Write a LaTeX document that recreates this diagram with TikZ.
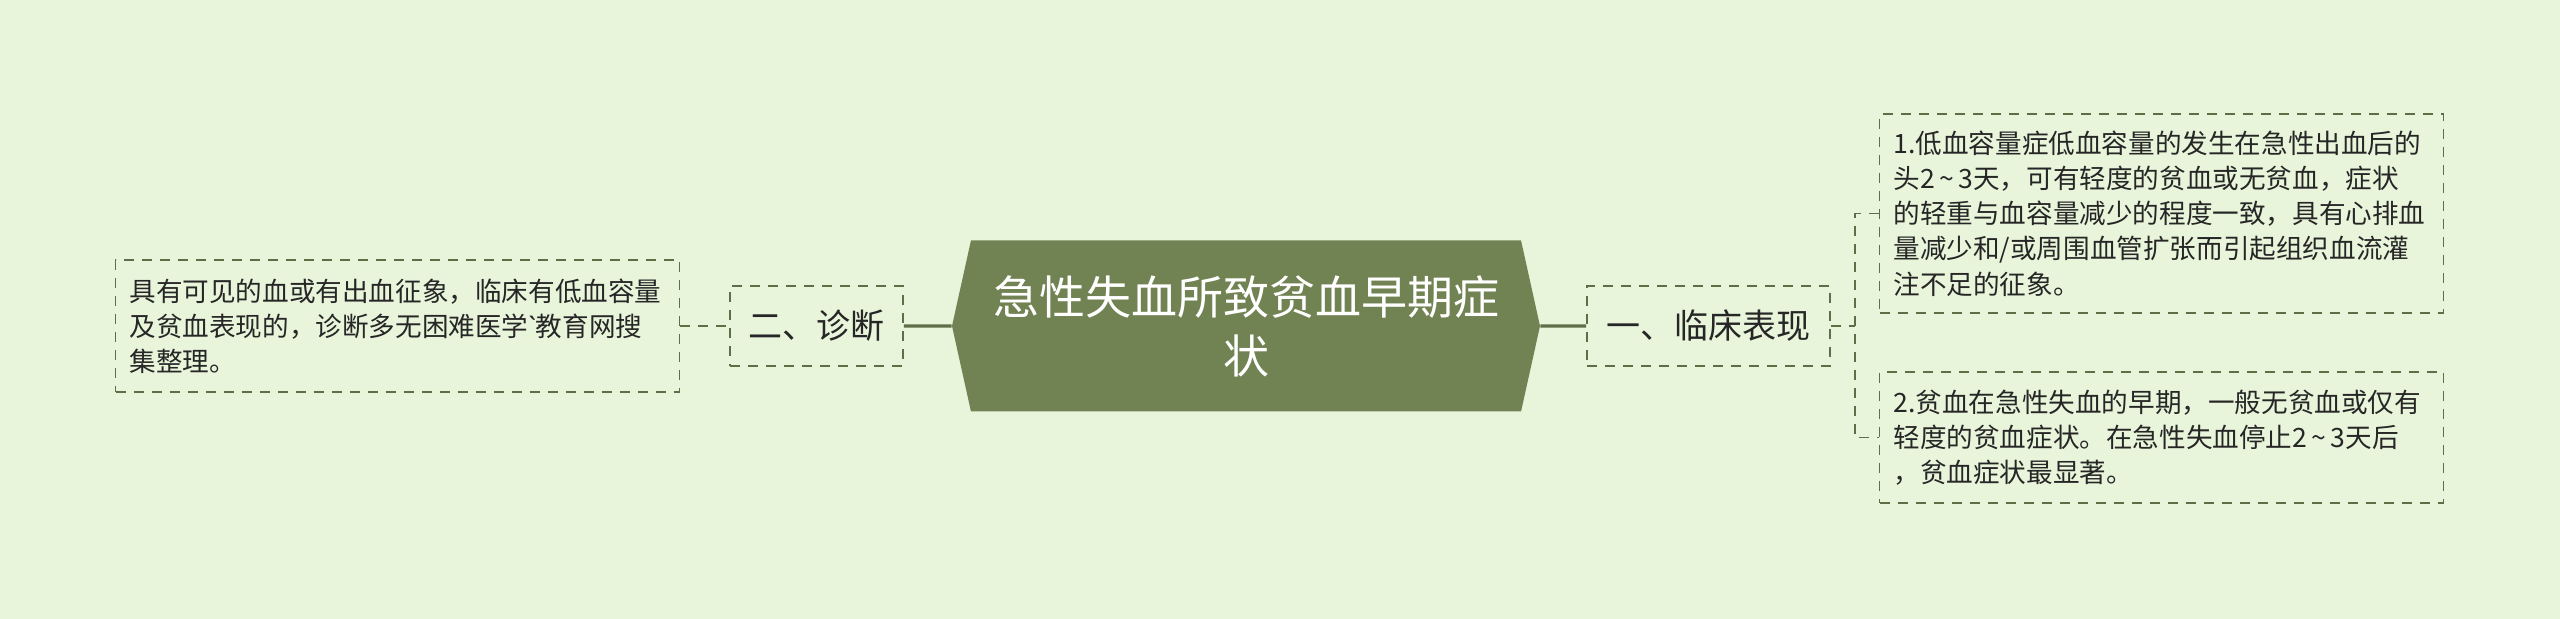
\documentclass[tikz,border=0pt]{standalone}
\usepackage{fontspec}
\setmainfont{Noto Sans CJK SC}
\newfontfamily\latinfont{Noto Sans}
\usetikzlibrary{shapes.symbols}
\definecolor{bgGreen}{RGB}{232,245,219}
\definecolor{oliveFill}{RGB}{113,130,83}
\definecolor{oliveLine}{RGB}{96,110,72}
\definecolor{inkDark}{RGB}{38,38,38}
\newcommand{\dayrange}{2\,\char126\,3}
\begin{document}
\begin{tikzpicture}[x=0.5pt,y=0.5pt,yscale=-1,xscale=1,
  leafbox/.style={draw=oliveLine,line width=0.9pt,dash pattern=on 5pt off 4pt,
    align=left,text width=268pt,inner sep=7pt,font=\fontsize{13.3pt}{17.6pt}\selectfont,text=inkDark},
  branchbox/.style={draw=oliveLine,line width=0.9pt,dash pattern=on 5pt off 4pt,
    minimum height=40pt,inner sep=0pt,font=\fontsize{17pt}{20pt}\selectfont,text=inkDark},
  dashlink/.style={draw=oliveLine,line width=0.9pt,dash pattern=on 5pt off 4pt},
  solidlink/.style={draw=oliveLine,line width=1.6pt}]
%set diagram size: 2560 x 619
\path[fill=bgGreen] (0,0) rectangle (2560,619);
\useasboundingbox (0,0) rectangle (2560,619);

% Title Node
\node (title) [shape=signal,signal to=west and east,signal pointer angle=155,
  fill=oliveFill,minimum width=294pt,minimum height=85.5pt,inner sep=0pt,
  text=white,align=center,font=\fontsize{23pt}{29.5pt}\selectfont] at (1246,326)
  {急性失血所致贫血早期症\\状};
% Branch Nodes
\node (diag) [branchbox,minimum width=86.5pt] at (816.5,326) {二、诊断};
\node (clin) [branchbox,minimum width=121.5pt] at (1708.5,326) {一、临床表现};
% Leaf Nodes
\node (diagtext) [leafbox,minimum height=66pt] at (397.5,326)
  {具有可见的血或有出血征象，临床有低血容量\\及贫血表现的，诊断多无困难医学{\latinfont\char96}教育网搜\\集整理。};
\node (pt1) [leafbox,minimum height=99.5pt] at (2161.5,213.5)
  {1.低血容量症低血容量的发生在急性出血后的\\头\dayrange 天，可有轻度的贫血或无贫血，症状\\的轻重与血容量减少的程度一致，具有心排血\\量减少和/或周围血管扩张而引起组织血流灌\\注不足的征象。};
\node (pt2) [leafbox,minimum height=65.5pt] at (2161.5,437.5)
  {2.贫血在急性失血的早期，一般无贫血或仅有\\轻度的贫血症状。在急性失血停止\dayrange 天后\\，贫血症状最显著。};
\coordinate (fork) at (1855,326);

% Links
\draw[dashlink] (diagtext) -- (diag);
\draw[solidlink] (diag) -- (title);
\draw[solidlink] (title) -- (clin);
\draw[dashlink] (clin) -- (fork);
\draw[dashlink] (pt1.west) -| (fork) |- (pt2.west);

\end{tikzpicture}
\end{document}
